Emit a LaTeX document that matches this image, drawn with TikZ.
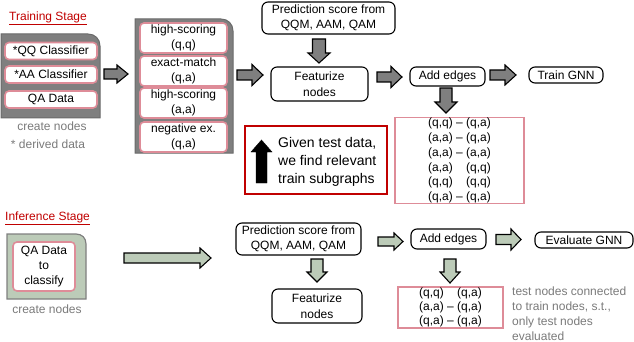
\documentclass[tikz,border=0pt]{standalone}
\usepackage{fontspec}
\setmainfont{Liberation Sans}
\definecolor{gpanel}{HTML}{7F7F7F}
\definecolor{gborder}{HTML}{6A6A6A}
\definecolor{pinkc}{HTML}{DE8C98}
\definecolor{greenc}{HTML}{BCCBB8}
\definecolor{redc}{HTML}{C00000}
\definecolor{graytext}{HTML}{7A7A7A}
\newcommand{\hblk}[7]{\draw[#1] (#2,#4-#5) -- (#3-#7,#4-#5) -- (#3-#7,#4-#6) -- (#3,#4) -- (#3-#7,#4+#6) -- (#3-#7,#4+#5) -- (#2,#4+#5) -- cycle;}
\newcommand{\vblk}[7]{\draw[#1] (#2-#5,#3) -- (#2-#5,#4-#7) -- (#2-#6,#4-#7) -- (#2,#4) -- (#2+#6,#4-#7) -- (#2+#5,#4-#7) -- (#2+#5,#3) -- cycle;}
\begin{document}
\begin{tikzpicture}[x=1pt,y=-1pt,
  font=\fontsize{12}{15}\selectfont,
  rbox/.style={draw=black, line width=1.1pt, rounded corners=6pt, fill=white, align=center, inner sep=0pt},
  pbox/.style={draw=pinkc, line width=1.6pt, rounded corners=4pt, fill=white, align=center, inner sep=0pt},
  ebox/.style={draw=pinkc, line width=1.5pt, fill=white, align=center, inner sep=0pt, font=\fontsize{12}{14.8}\selectfont},
  panel/.style={fill=gpanel, draw=gborder, line width=1pt},
  gpanel/.style={fill=greenc, draw=gpanel, line width=1.2pt},
  garrow/.style={fill=gpanel, draw=black, line width=1.1pt},
  grarrow/.style={fill=greenc, draw=black, line width=1.1pt},
  title/.style={text=redc, inner sep=0pt, anchor=base west},
  note/.style={text=graytext, inner sep=0pt}]
\useasboundingbox (0,0) rectangle (634,342);

% ---------- Training stage ----------
\node[title] (ttitle) at (9,20.3) {\underline{Training Stage}};

\draw[panel] (1,118) -- (1,34) -- (88,34) .. controls (95,34) and (100,39) .. (100,46) -- (100,118) -- cycle;
\node[pbox, minimum width=92pt, minimum height=17pt] (qq) at (51,51) {*QQ Classifier};
\node[pbox, minimum width=92pt, minimum height=17pt] (aa) at (51,74.5) {*AA Classifier};
\node[pbox, minimum width=92pt, minimum height=17pt] (qa) at (51,99.5) {QA Data};
\node[note] (cn1) at (52,126) {create nodes};
\node[note] (dd) at (48,144) {* derived data};

\hblk{garrow}{104}{128}{74}{5}{9}{11}

\draw[panel] (135,153) -- (135,19) -- (221,19) .. controls (228,19) and (233,24) .. (233,31) -- (233,153) -- cycle;
\node[pbox, minimum width=87pt, minimum height=30pt] (hqq) at (183.5,38) {high-scoring\\(q,q)};
\node[pbox, minimum width=87pt, minimum height=30pt] (emqa) at (183.5,71) {exact-match\\(q,a)};
\node[pbox, minimum width=87pt, minimum height=30pt] (haa) at (183.5,103) {high-scoring\\(a,a)};
\node[pbox, minimum width=87pt, minimum height=30pt] (neg) at (183.5,137) {negative ex.\\(q,a)};

\hblk{garrow}{237}{263}{75}{5}{10.5}{11}

\node[rbox, minimum width=133pt, minimum height=32pt] (pred) at (328.5,18) {Prediction score from\\QQM, AAM, QAM};
\vblk{garrow}{319}{39}{63}{6.5}{11}{10}
\node[rbox, minimum width=97pt, minimum height=34pt, font=\fontsize{12}{16}\selectfont] (feat) at (319.5,84) {Featurize\\nodes};
\hblk{garrow}{377}{402}{77}{5}{10.5}{11}
\node[rbox, minimum width=75pt, minimum height=19pt] (add) at (447.5,76.5) {Add edges};
\hblk{garrow}{490}{516}{75}{5}{10}{11}
\node[rbox, minimum width=74pt, minimum height=16pt] (train) at (566,75) {Train GNN};
\vblk{garrow}{446}{88}{113}{6}{11}{11}
\node[ebox, minimum width=129pt, minimum height=86pt] (edges) at (459.5,160.5)
  {(q,q) -- (q,a)\\(a,a) -- (q,a)\\(a,a) -- (a,a)\\(a,a) \phantom{--} (q,q)\\(q,q) \phantom{--} (q,q)\\(q,a) -- (q,a)};

\node[draw=redc, line width=1.8pt, minimum width=142pt, minimum height=68pt, inner sep=0pt] (given) at (316,160) {};
\draw[fill=black] (256,183) -- (256,152) -- (251,152) -- (261.5,140) -- (272,152) -- (267,152) -- (267,183) -- cycle;
\node[anchor=west, align=left, inner sep=0pt, font=\fontsize{14}{18}\selectfont] (gtxt) at (278,162) {Given test data,\\we find relevant\\train subgraphs};

% ---------- Inference stage ----------
\node[title] (ititle) at (5,220.3) {\underline{Inference Stage}};

\draw[gpanel] (7,299) -- (7,234) -- (76,234) .. controls (82,234) and (86,238) .. (86,244) -- (86,299) -- cycle;
\node[pbox, minimum width=62pt, minimum height=49pt] (qa2) at (44,266.5) {QA Data\\to\\classify};
\node[note] (cn2) at (47,309) {create nodes};

\hblk{grarrow}{124}{211}{258}{5}{10}{11}

\node[rbox, minimum width=125pt, minimum height=32pt] (pred2) at (298.5,239) {Prediction score from\\QQM, AAM, QAM};
\vblk{grarrow}{317}{259}{282}{6}{10}{10}
\node[rbox, minimum width=90pt, minimum height=34pt, font=\fontsize{12}{16}\selectfont] (feat2) at (317,306) {Featurize\\nodes};
\hblk{grarrow}{378}{403}{241.5}{4.5}{8.5}{9}
\node[rbox, minimum width=75pt, minimum height=20pt] (add2) at (448.5,239) {Add edges};
\hblk{grarrow}{496}{521}{239.5}{5}{10.5}{10}
\node[rbox, minimum width=98pt, minimum height=16pt] (eval) at (584,240) {Evaluate GNN};
\vblk{grarrow}{450}{259}{283}{6}{10}{11}
\node[ebox, minimum width=105pt, minimum height=41pt, font=\fontsize{12}{14}\selectfont] (edges2) at (450.5,307.5)
  {(q,q) \phantom{--} (q,a)\\(a,a) -- (q,a)\\(q,a) -- (q,a)};
\node[note, anchor=west, align=left, font=\fontsize{12}{15}\selectfont] (side) at (512,313.5) {test nodes connected\\to train nodes, s.t.,\\only test nodes\\evaluated};
\end{tikzpicture}
\end{document}
